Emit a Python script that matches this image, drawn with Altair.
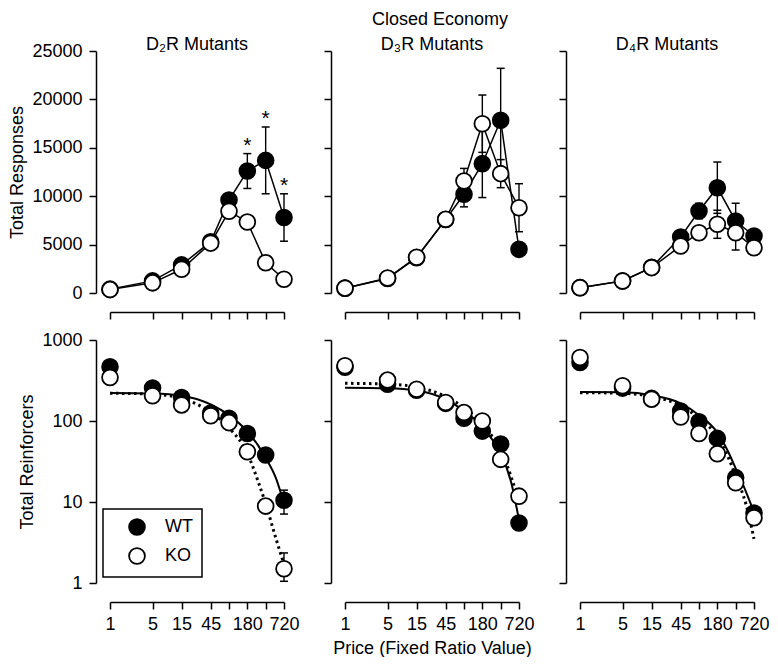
import altair as alt
import pandas as pd

FONT = "Liberation Sans"

FIGURE_TITLE = "Closed Economy"
PRICES = [1, 5, 15, 45, 90, 180, 360, 720]
TICK_LABELS = ["1", "5", "15", "45", "", "180", "", "720"]
FIT_PRICES = [1, 5, 15, 45, 90, 180, 270, 360, 540, 720]
PANEL_TITLES = ["D₂R Mutants", "D₃R Mutants", "D₄R Mutants"]
GROUPS = ["WT", "KO"]
GROUP_FILLS = ["black", "white"]
RESP_TICKS = [0, 5000, 10000, 15000, 20000, 25000]
REINF_TICKS = [1, 10, 100, 1000]

# Top row: total responses (mean, SEM)
D2_RESP_WT = [400, 1250, 2900, 5300, 9600, 12600, 13700, 7800]
D2_RESP_WT_SEM = [100, 150, 300, 400, 600, 1800, 3450, 2450]
D2_RESP_KO = [350, 1050, 2450, 5150, 8450, 7330, 3130, 1420]
D2_RESP_KO_SEM = [100, 150, 300, 400, 500, 600, 500, 300]
D3_RESP_WT = [500, 1500, 3650, 7600, 10200, 13360, 17840, 4510]
D3_RESP_WT_SEM = [100, 150, 300, 500, 1300, 3500, 5370, 700]
D3_RESP_KO = [500, 1550, 3700, 7610, 11570, 17490, 12330, 8810]
D3_RESP_KO_SEM = [100, 150, 300, 500, 1300, 2960, 1450, 2480]
D4_RESP_WT = [550, 1250, 2650, 5780, 8470, 10880, 7440, 5890]
D4_RESP_WT_SEM = [100, 150, 250, 400, 800, 2650, 1830, 500]
D4_RESP_KO = [550, 1240, 2620, 4860, 6230, 7100, 6230, 4680]
D4_RESP_KO_SEM = [100, 150, 250, 400, 600, 1450, 1790, 400]
D2_STAR_PRICES = [180, 360, 720]

# Bottom row: total reinforcers
D2_REIN_WT = [467, 255, 195, 125, 108, 70, 38, 10.5]
D2_REIN_WT_LO = [445, 243, 186, 119, 103, 66, 35, 7.1]
D2_REIN_WT_HI = [490, 268, 205, 131, 113, 74, 41, 14]
D2_REIN_KO = [344, 205, 158, 116, 95.5, 41.8, 8.9, 1.5]
D2_REIN_KO_LO = [330, 196, 151, 111, 91, 39.5, 8.3, 1.05]
D2_REIN_KO_HI = [358, 214, 165, 121, 100, 44, 9.5, 2.35]
D3_REIN_WT = [460, 284, 240, 165, 108, 75, 52, 5.5]
D3_REIN_KO = [481, 320, 247, 169, 127, 100, 33.6, 11.8]
D4_REIN_WT = [528, 255, 190, 133, 98, 61, 20, 7.3]
D4_REIN_KO = [609, 272, 186, 112, 70, 39.5, 17.3, 6.4]

# Fitted demand curves
D2_FIT_WT = [222, 218, 205, 160, 118, 74, 50, 35, 19, 9.5]
D2_FIT_KO = [220, 215, 190, 128, 82, 40, 18, 9.5, 3.4, 1.7]
D3_FIT_WT = [258, 254, 238, 185, 133, 85, 57, 40, 17, 6]
D3_FIT_KO = [292, 285, 262, 200, 146, 92, 62, 44, 20, 10]
D4_FIT_WT = [228, 226, 208, 165, 118, 72, 42, 26, 13, 7.5]
D4_FIT_KO = [224, 220, 200, 155, 108, 64, 36, 21, 9, 3.5]

W = 174
H_TOP = 242
H_BOT = 243


def label_expr():
    expr = "''"
    for v, lab in zip(PRICES, TICK_LABELS):
        expr = f"datum.value == {v} ? '{lab}' : ({expr})"
    return expr


def x_enc(show_labels, title):
    axis = alt.Axis(values=PRICES, labels=show_labels, labelExpr=label_expr(),
                    labelOverlap=False, labelFlush=False, offset=19,
                    title=title, titlePadding=6, labelPadding=6)
    return alt.X("price:Q", scale=alt.Scale(type="log", domain=[1, 720], nice=False), axis=axis)


def y_axis(values, show_labels, title, fmt):
    return alt.Axis(values=values, labels=show_labels, title=title, offset=14,
                    format=fmt, labelPadding=7, titlePadding=5)


fill_scale = alt.Scale(domain=GROUPS, range=GROUP_FILLS)

legend = alt.Legend(orient="none", legendX=-7, legendY=458, title=None, strokeColor="black",
                    fillColor="white", padding=9, symbolType="circle", symbolSize=250,
                    symbolStrokeColor="black", symbolStrokeWidth=1.8, labelFontSize=18,
                    labelFont=FONT, labelColor="black", rowPadding=5, symbolOffset=16,
                    labelOffset=19)


def text_layer(text, x_px, y_px):
    return alt.Chart(pd.DataFrame({"t": [text]})).mark_text(
        fontSize=18, font=FONT, color="black", baseline="alphabetic", align="center").encode(
        text="t:N", x=alt.value(x_px), y=alt.value(y_px))


def points_layer(df, x, yfield, yscale):
    return alt.Chart(df).mark_circle(size=250, stroke="black", strokeWidth=1.8, opacity=1).encode(
        x=x, y=alt.Y(yfield, scale=yscale),
        fill=alt.Fill("group:N", scale=fill_scale, legend=legend),
    )


def err_layers(df, x, yscale):
    rule = alt.Chart(df).mark_rule(color="black", strokeWidth=1.4).encode(
        x=x, y=alt.Y("lo:Q", scale=yscale), y2="hi:Q")
    cap_hi = alt.Chart(df).mark_point(shape="M-1,0L1,0", size=64, stroke="black",
                                      strokeWidth=1.5, filled=False, opacity=1).encode(
        x=x, y=alt.Y("hi:Q", scale=yscale))
    cap_lo = alt.Chart(df).mark_point(shape="M-1,0L1,0", size=64, stroke="black",
                                      strokeWidth=1.5, filled=False, opacity=1).encode(
        x=x, y=alt.Y("lo:Q", scale=yscale))
    return [rule, cap_hi, cap_lo]


def top_panel(i, wt, wt_sem, ko, ko_sem, stars):
    rows = []
    for g, vals, sems in (("WT", wt, wt_sem), ("KO", ko, ko_sem)):
        for p, v, s in zip(PRICES, vals, sems):
            rows.append(dict(price=p, group=g, value=v, lo=v - s, hi=v + s))
    df = pd.DataFrame(rows)
    yscale = alt.Scale(domain=[0, 25000], nice=False)
    x = x_enc(False, None)
    base = alt.Chart(df).mark_line(color="black", strokeWidth=1.5).encode(
        x=x,
        y=alt.Y("value:Q", scale=yscale,
                axis=y_axis(RESP_TICKS, i == 0, "Total Responses" if i == 0 else None, "d")),
        detail="group:N",
    )
    layers = err_layers(df, x, yscale) + [base, points_layer(df, x, "value:Q", yscale)]
    if stars:
        sdf = df[(df.group == "WT") & (df.price.isin(stars))]
        layers.append(alt.Chart(sdf).mark_text(text="*", fontSize=21, font=FONT, color="black",
                                               baseline="alphabetic", dy=-2).encode(
            x=x, y=alt.Y("hi:Q", scale=yscale)))
    layers.append(text_layer(PANEL_TITLES[i], W / 2, -1))
    if i == 1:
        layers.append(text_layer(FIGURE_TITLE, W / 2 + 8, -26))
    return alt.layer(*layers).properties(width=W, height=H_TOP)


def bottom_panel(i, wt, ko, fit_wt, fit_ko, err=None):
    rows = []
    for gi, (g, vals) in enumerate((("WT", wt), ("KO", ko))):
        for j, (p, v) in enumerate(zip(PRICES, vals)):
            r = dict(price=p, group=g, value=v)
            if err is not None:
                r["lo"] = err[gi][0][j]
                r["hi"] = err[gi][1][j]
            rows.append(r)
    df = pd.DataFrame(rows)
    fwt = pd.DataFrame(dict(price=FIT_PRICES, value=fit_wt))
    fko = pd.DataFrame(dict(price=FIT_PRICES, value=fit_ko))
    yscale = alt.Scale(type="log", domain=[1, 1000], nice=False)
    x = x_enc(True, "Price (Fixed Ratio Value)" if i == 1 else None)
    fit_line_wt = alt.Chart(fwt).mark_line(color="black", strokeWidth=2, interpolate="monotone").encode(
        x=x,
        y=alt.Y("value:Q", scale=yscale,
                axis=y_axis(REINF_TICKS, i == 0, "Total Reinforcers" if i == 0 else None, "d")),
    )
    fit_line_ko = alt.Chart(fko).mark_line(color="black", strokeWidth=3, strokeDash=[2.5, 3.5],
                                           interpolate="monotone").encode(
        x=x, y=alt.Y("value:Q", scale=yscale))
    layers = [fit_line_wt, fit_line_ko]
    if err is not None:
        layers += err_layers(df, x, yscale)
    layers.append(points_layer(df, x, "value:Q", yscale))
    return alt.layer(*layers).properties(width=W, height=H_BOT)


panels = [
    top_panel(0, D2_RESP_WT, D2_RESP_WT_SEM, D2_RESP_KO, D2_RESP_KO_SEM, D2_STAR_PRICES),
    top_panel(1, D3_RESP_WT, D3_RESP_WT_SEM, D3_RESP_KO, D3_RESP_KO_SEM, None),
    top_panel(2, D4_RESP_WT, D4_RESP_WT_SEM, D4_RESP_KO, D4_RESP_KO_SEM, None),
    bottom_panel(0, D2_REIN_WT, D2_REIN_KO, D2_FIT_WT, D2_FIT_KO,
                 err=((D2_REIN_WT_LO, D2_REIN_WT_HI), (D2_REIN_KO_LO, D2_REIN_KO_HI))),
    bottom_panel(1, D3_REIN_WT, D3_REIN_KO, D3_FIT_WT, D3_FIT_KO),
    bottom_panel(2, D4_REIN_WT, D4_REIN_KO, D4_FIT_WT, D4_FIT_KO),
]

chart = alt.concat(*panels, columns=3, spacing={"row": 47, "column": 61}, bounds="flush").properties(
    padding={"left": 0, "top": 3, "right": 0, "bottom": 0},
).configure_view(strokeWidth=0).configure_axis(
    domainColor="black", domainWidth=1.5, tickColor="black", tickWidth=1.5, tickSize=7,
    labelFont=FONT, labelFontSize=18, labelColor="black", titleFont=FONT, titleFontSize=18,
    titleFontWeight="normal", titleColor="black", grid=False,
).configure_legend(strokeWidth=1.5)

chart.save("out.html", embed_options={"renderer": "svg", "actions": False})
